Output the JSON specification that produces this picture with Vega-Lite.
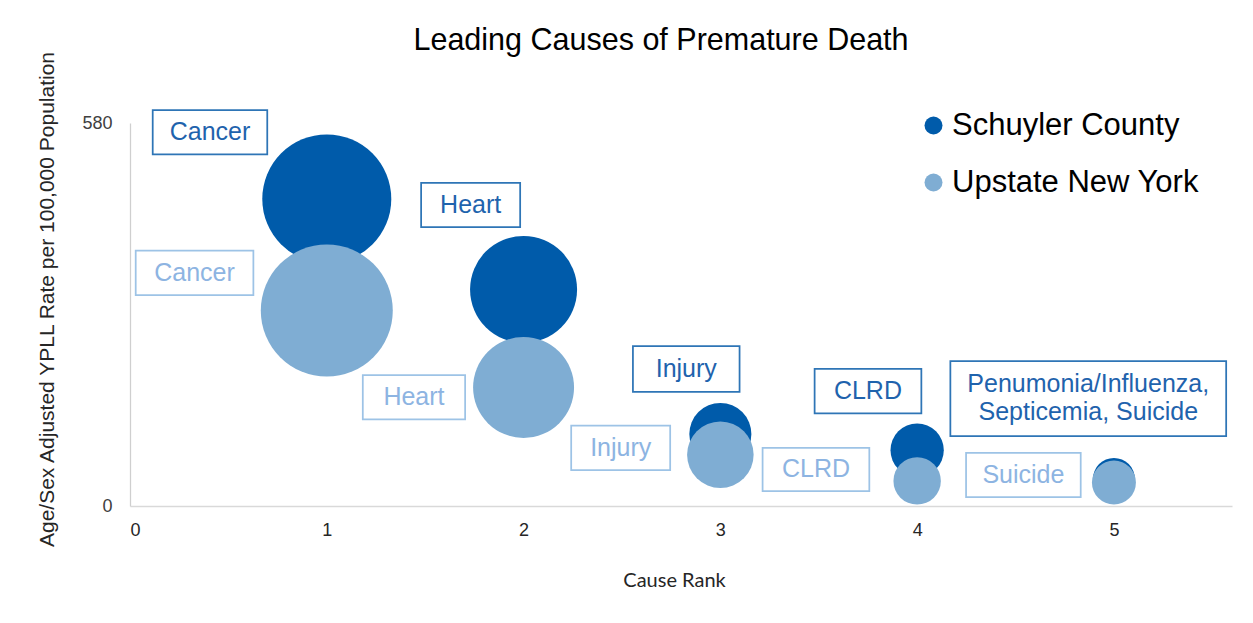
{
  "$schema": "https://vega.github.io/schema/vega-lite/v6.json",
  "width": 1102,
  "height": 383,
  "autosize": {"type": "none"},
  "padding": {"left": 130, "top": 123, "right": 21, "bottom": 117},
  "background": "white",
  "title": {
    "text": "Leading Causes of Premature Death",
    "font": "Liberation Sans",
    "fontSize": 30.5,
    "fontWeight": "normal",
    "color": "#000000",
    "anchor": "middle",
    "frame": "group",
    "dx": -20,
    "baseline": "alphabetic",
    "offset": -30
  },
  "datasets": {
    "bubbles": [
      {"rank": 1, "cause": "Cancer", "area": "Schuyler County", "rate": 465, "bubble": 95.5},
      {"rank": 2, "cause": "Heart", "area": "Schuyler County", "rate": 328, "bubble": 65.7},
      {"rank": 3, "cause": "Injury", "area": "Schuyler County", "rate": 109, "bubble": 22.1},
      {"rank": 4, "cause": "CLRD", "area": "Schuyler County", "rate": 84.5, "bubble": 16.3},
      {"rank": 5, "cause": "Pneumonia/Influenza, Septicemia, Suicide", "area": "Schuyler County", "rate": 41, "bubble": 10.1},
      {"rank": 1, "cause": "Cancer", "area": "Upstate New York", "rate": 296, "bubble": 100},
      {"rank": 2, "cause": "Heart", "area": "Upstate New York", "rate": 179.5, "bubble": 58.5},
      {"rank": 3, "cause": "Injury", "area": "Upstate New York", "rate": 77.5, "bubble": 25.4},
      {"rank": 4, "cause": "CLRD", "area": "Upstate New York", "rate": 38, "bubble": 12.9},
      {"rank": 5, "cause": "Suicide", "area": "Upstate New York", "rate": 35.6, "bubble": 11.1}
    ],
    "labels": [
      {"label": "Cancer", "area": "Schuyler County", "x": 0.4067, "y": 565.9, "x1": 0.1154, "x2": 0.6975, "y1": 532.3, "y2": 599.4},
      {"label": "Cancer", "area": "Upstate New York", "x": 0.328, "y": 353.1, "x1": 0.029, "x2": 0.627, "y1": 319.3, "y2": 386.9},
      {"label": "Heart", "area": "Schuyler County", "x": 1.731, "y": 455.9, "x1": 1.4794, "x2": 1.9827, "y1": 422.2, "y2": 489.5},
      {"label": "Heart", "area": "Upstate New York", "x": 1.443, "y": 164.5, "x1": 1.183, "x2": 1.703, "y1": 131.0, "y2": 198.1},
      {"label": "Injury", "area": "Schuyler County", "x": 2.8267, "y": 207.5, "x1": 2.5557, "x2": 3.0976, "y1": 172.9, "y2": 242.0},
      {"label": "Injury", "area": "Upstate New York", "x": 2.4936, "y": 88.1, "x1": 2.242, "x2": 2.745, "y1": 54.2, "y2": 121.9},
      {"label": "CLRD", "area": "Schuyler County", "x": 3.75, "y": 173.9, "x1": 3.479, "x2": 4.0214, "y1": 140.1, "y2": 207.8},
      {"label": "CLRD", "area": "Upstate New York", "x": 3.4858, "y": 55.3, "x1": 3.2146, "x2": 3.757, "y1": 22.4, "y2": 88.1},
      {"label": "Penumonia/Influenza,\nSepticemia, Suicide", "area": "Schuyler County", "x": 4.8696, "y": 185.5, "x1": 4.1688, "x2": 5.5704, "y1": 105.7, "y2": 219.3},
      {"label": "Suicide", "area": "Upstate New York", "x": 4.54, "y": 46.9, "x1": 4.2486, "x2": 4.8312, "y1": 13.3, "y2": 80.6}
    ]
  },
  "layer": [
    {
      "data": {"name": "bubbles"},
      "mark": {"type": "point", "shape": "circle", "filled": true, "opacity": 1, "strokeWidth": 0},
      "encoding": {
        "x": {
          "field": "rank", "type": "quantitative",
          "scale": {"domain": [0, 5.6], "nice": false, "zero": false},
          "axis": {
            "title": "Cause Rank",
            "values": [0, 1, 2, 3, 4, 5],
            "format": "d",
            "grid": false,
            "ticks": false,
            "domainColor": "#d9d9d9",
            "domainWidth": 1.5,
            "labelFont": "Liberation Sans",
            "labelFontSize": 18,
            "labelColor": "#262626",
            "labelPadding": 15,
            "titleFont": "Lato",
            "titleFontSize": 20,
            "titleFontWeight": "normal",
            "titleColor": "#262626",
            "titleX": 544,
            "titleY": 80,
            "titleAlign": "center",
            "titleBaseline": "alphabetic"
          }
        },
        "y": {
          "field": "rate", "type": "quantitative",
          "scale": {"domain": [0, 580], "nice": false},
          "axis": {
            "title": "Age/Sex Adjusted YPLL Rate per 100,000 Population",
            "values": [0, 580],
            "grid": false,
            "ticks": false,
            "domainColor": "#cfcfcf",
            "domainWidth": 1.25,
            "labelFont": "Liberation Sans",
            "labelFontSize": 18,
            "labelColor": "#404040",
            "labelPadding": 18,
            "titleFont": "Liberation Sans",
            "titleFontSize": 21,
            "titleFontWeight": "normal",
            "titleColor": "#262626",
            "titleX": -73,
            "titleY": 176,
            "titleAngle": -90,
            "titleAlign": "center",
            "titleBaseline": "bottom"
          }
        },
        "size": {
          "field": "bubble", "type": "quantitative",
          "scale": {"type": "linear", "domain": [0, 100], "range": [0, 17424], "zero": true},
          "legend": null
        },
        "color": {
          "field": "area", "type": "nominal",
          "scale": {"domain": ["Schuyler County", "Upstate New York"], "range": ["#005BAA", "#7FADD3"]},
          "legend": {
            "title": null,
            "orient": "none",
            "legendX": 788,
            "legendY": -13,
            "symbolType": "circle",
            "symbolSize": 324,
            "symbolStrokeWidth": 0,
            "labelFont": "Liberation Sans",
            "labelFontSize": 31,
            "labelColor": "#000000",
            "labelOffset": 3,
            "labelLimit": 500,
            "rowPadding": 25,
            "padding": 0
          }
        }
      }
    },
    {
      "data": {"name": "labels"},
      "mark": {"type": "rect", "fill": "white", "fillOpacity": 0, "strokeWidth": 1.75},
      "encoding": {
        "x": {"field": "x1", "type": "quantitative"},
        "x2": {"field": "x2"},
        "y": {"field": "y1", "type": "quantitative"},
        "y2": {"field": "y2"},
        "stroke": {
          "field": "area", "type": "nominal",
          "scale": {"domain": ["Schuyler County", "Upstate New York"], "range": ["#2E75B6", "#9DC3E6"]},
          "legend": null
        }
      }
    },
    {
      "data": {"name": "labels"},
      "mark": {"type": "text", "font": "Liberation Sans", "fontSize": 25, "align": "center", "baseline": "middle", "lineBreak": "\n", "lineHeight": 28.5},
      "encoding": {
        "x": {"field": "x", "type": "quantitative"},
        "y": {"field": "y", "type": "quantitative"},
        "text": {"field": "label", "type": "nominal"},
        "fill": {
          "field": "area", "type": "nominal",
          "scale": {"domain": ["Schuyler County", "Upstate New York"], "range": ["#1F63AD", "#8DB4E2"]},
          "legend": null
        }
      }
    }
  ],
  "config": {
    "view": {"stroke": null},
    "font": "Liberation Sans"
  }
}
